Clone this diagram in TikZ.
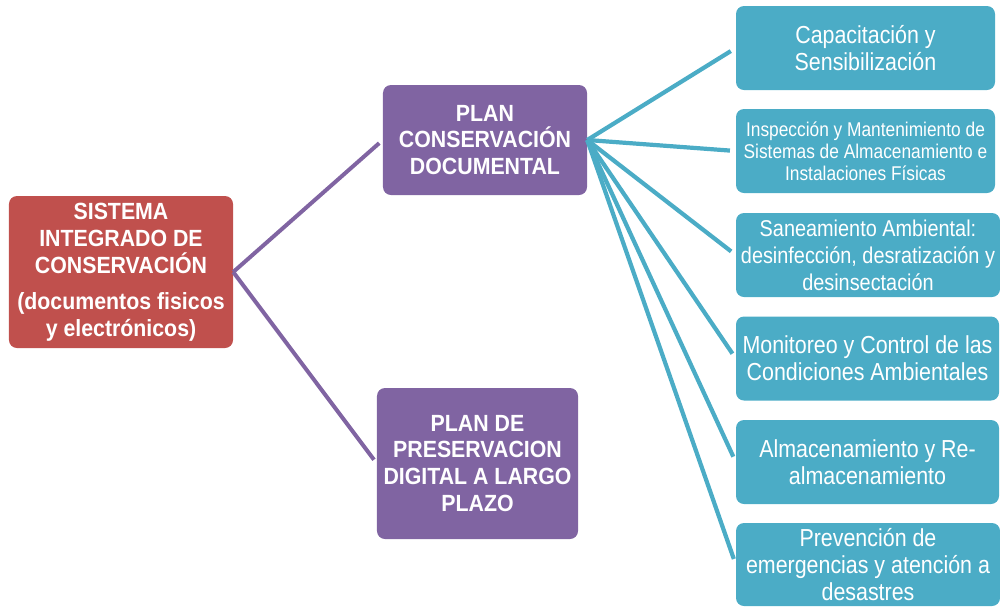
\documentclass[tikz,border=0pt]{standalone}
\usepackage{fontspec}
\setmainfont{Liberation Sans}
\newfontfamily\narrowfont[FakeStretch=0.87]{Liberation Sans}
\newfontfamily\headfont[FakeStretch=0.91]{Liberation Sans}
\definecolor{sicred}{HTML}{C0504D}
\definecolor{sicpurple}{HTML}{8064A2}
\definecolor{sicblue}{HTML}{4BACC6}
\tikzset{box/.style = {rounded corners = 0.24cm, text = white, align = center,
                       inner sep = 0}}
\tikzset{headbox/.style = {box, font = \headfont\bfseries\fontsize{20}{23}\selectfont}}
\tikzset{itembox/.style = {box, fill = sicblue, minimum height = 2.52cm,
                           font = \narrowfont\fontsize{21}{23}\selectfont}}
\tikzset{purpleline/.style = {draw = sicpurple, line width = 3.4pt, shorten > = 4pt}}
\tikzset{blueline/.style = {draw = sicblue, line width = 3.6pt, shorten > = 5pt}}

\begin{document}
\begin{tikzpicture}[x = 0.03cm, y = -0.03cm]
      \useasboundingbox (0, 0) rectangle (1000, 607);

      \node [headbox, fill = sicred, minimum width = 6.72cm, minimum height = 4.56cm]
            (sistema) at (121, 272)
            {SISTEMA\\INTEGRADO DE\\CONSERVACIÓN\\[8pt](documentos fisicos\\y electrónicos)};
      \node [headbox, fill = sicpurple, minimum width = 6.12cm, minimum height = 3.3cm]
            (conservacion) at (485, 140) {PLAN\\CONSERVACIÓN\\DOCUMENTAL};
      \node [headbox, fill = sicpurple, minimum width = 6.03cm, minimum height = 4.53cm]
            (preservacion) at (477.5, 463.5) {PLAN DE\\PRESERVACION\\DIGITAL A LARGO\\PLAZO};

      \node [itembox, minimum width = 7.77cm] (capacitacion) at (865.5, 48)
            {Capacitación y\\Sensibilización};
      \node [itembox, minimum width = 7.77cm, font = \narrowfont\fontsize{17}{18.8}\selectfont]
            (inspeccion) at (865.5, 151)
            {Inspección y Mantenimiento de\\Sistemas de Almacenamiento e\\Instalaciones Físicas};
      \node [itembox, minimum width = 7.92cm, font = \narrowfont\fontsize{19.5}{23}\selectfont]
            (saneamiento) at (868, 255)
            {Saneamiento Ambiental:\\desinfección, desratización y\\desinsectación};
      \node [itembox, minimum width = 7.89cm] (monitoreo) at (867.5, 358.5)
            {Monitoreo y Control de las\\Condiciones Ambientales};
      \node [itembox, minimum width = 7.89cm] (almacenamiento) at (867.5, 462)
            {Almacenamiento y Re-\\almacenamiento};
      \node [itembox, minimum width = 7.92cm, minimum height = 2.49cm] (prevencion) at (868, 564.5)
            {Prevención de\\emergencias y atención a\\desastres};

      \draw [purpleline] (sistema.east) -- (conservacion.west);
      \draw [purpleline] (sistema.east) -- (preservacion.west);

      \draw [blueline] (conservacion.east) -- (capacitacion.west);
      \draw [blueline] (conservacion.east) -- (inspeccion.west);
      \draw [blueline] (conservacion.east) -- (saneamiento.west);
      \draw [blueline] (conservacion.east) -- (monitoreo.west);
      \draw [blueline] (conservacion.east) -- (almacenamiento.west);
      \draw [blueline] (conservacion.east) -- (prevencion.west);
\end{tikzpicture}
\end{document}
